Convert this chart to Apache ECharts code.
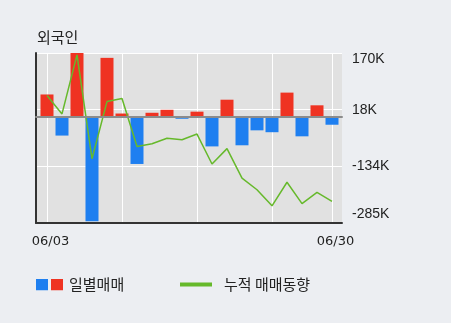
<!DOCTYPE html>
<html>
<head>
<meta charset="utf-8">
<script src="https://cdn.jsdelivr.net/npm/echarts@6/dist/echarts.min.js"></script>
<style>
html,body{margin:0;padding:0;background:#eceef2;}
#c{width:451px;height:323px;}
</style>
</head>
<body>
<div id="c"></div>
<script>
// Data (values in thousands of shares)
var categories = ['06/03','06/04','06/05','06/08','06/09','06/10','06/11','06/12','06/15','06/16',
                  '06/17','06/18','06/19','06/22','06/23','06/24','06/25','06/26','06/29','06/30'];
var dailyTrade = [59, -51, 170, -280, 157, 8, -127, 10, 18, -6, 13, -80, 45, -77, -37, -42, 64, -53, 30, -22];
var cumulativeTrade = [56, 7, 165, -113, 40, 48, -80, -73, -58, -62, -47, -127, -86, -165, -196, -239, -176, -233, -203, -227];
var yTickLabels = ['-285K', '-134K', '18K', '170K'];
var xShownLabels = ['06/03', '06/30'];
var xGridDates = ['06/03', '06/10', '06/17', '06/24', '06/30'];
var yMin = -285, yMax = 170;

var RED = '#ef3322', BLUE = '#1e7ff0', GREEN = '#66b92b';
var yInterval = (yMax - yMin) / 3;

var svgIcon = "<svg xmlns='http://www.w3.org/2000/svg' width='27' height='12'>" +
  "<rect x='0' y='0' width='12' height='12' fill='" + BLUE + "'/>" +
  "<rect x='15' y='0' width='12' height='12' fill='" + RED + "'/></svg>";
var barIcon = 'image://data:image/svg+xml;charset=utf-8,' + encodeURIComponent(svgIcon);

var chart = echarts.init(document.getElementById('c'), null, {renderer: 'canvas'});
chart.setOption({
  backgroundColor: '#eceef2',
  animation: false,
  title: {
    text: '외국인', left: 37, top: 30, padding: 0,
    textStyle: {fontSize: 15, fontWeight: 'normal', color: '#222', fontFamily: 'Noto Sans CJK KR'}
  },
  legend: [{
    data: [{name: '일별매매', icon: barIcon}],
    left: 36, top: 277, padding: 0, itemWidth: 27, itemHeight: 12,
    textStyle: {fontSize: 15, color: '#222', fontFamily: 'Noto Sans CJK KR', padding: [0, 0, 0, 1]}
  }, {
    data: [{name: '누적 매매동향', icon: 'rect'}],
    left: 180, top: 277, padding: 0, itemWidth: 32, itemHeight: 4,
    textStyle: {fontSize: 15, color: '#222', fontFamily: 'Noto Sans CJK KR', padding: [0, 0, 0, 7]}
  }],
  grid: [
    {left: 36, right: 109, top: 53, bottom: 100, show: true, backgroundColor: '#e1e1e1', borderWidth: 0},
    {left: 47, right: 119, top: 53, bottom: 100}
  ],
  xAxis: [
    {gridIndex: 0, type: 'value', min: 0, max: 1, position: 'bottom',
     axisLine: {show: true, onZero: false, lineStyle: {color: '#333', width: 2}},
     axisTick: {show: false}, axisLabel: {show: false}, splitLine: {show: false}},
    {gridIndex: 0, type: 'value', min: 0, max: 1, position: 'bottom',
     axisLine: {show: true, onZero: true, lineStyle: {color: '#8c8c8c', width: 2}},
     axisTick: {show: false}, axisLabel: {show: false}, splitLine: {show: false}},
    {gridIndex: 1, type: 'category', data: categories, boundaryGap: false,
     axisLine: {show: false}, axisTick: {show: false},
     axisLabel: {
       interval: function (i, v) { return xShownLabels.indexOf(v) >= 0; },
       margin: 12, padding: [0, 0, 0, 7],
       fontSize: 13, color: '#222', fontFamily: 'DejaVu Sans'
     },
     splitLine: {show: true, interval: function (i, v) { return xGridDates.indexOf(v) >= 0; },
       lineStyle: {color: '#ffffff', width: 1}}}
  ],
  yAxis: [
    {gridIndex: 0, type: 'value', min: yMin, max: yMax, interval: yInterval, position: 'left',
     axisLine: {show: true, lineStyle: {color: '#333', width: 2}},
     axisTick: {show: false}, axisLabel: {show: false},
     splitLine: {show: true, lineStyle: {color: '#ffffff', width: 1}}},
    {gridIndex: 1, type: 'value', min: yMin, max: yMax, interval: yInterval, position: 'right',
     axisLine: {show: false}, axisTick: {show: false}, splitLine: {show: false},
     axisLabel: {
       margin: 20, fontSize: 14, color: '#222', fontFamily: 'Liberation Sans',
       showMinLabel: true, showMaxLabel: true,
       formatter: function (v, i) {
         var t = yTickLabels[i];
         if (i === 3) return '{top|' + t + '}';
         if (i === 0) return '{bot|' + t + '}';
         return t;
       },
       rich: {
         top: {padding: [12, 0, 0, 0], fontSize: 14, fontFamily: 'Liberation Sans', color: '#222'},
         bot: {padding: [0, 0, 17, 0], fontSize: 14, fontFamily: 'Liberation Sans', color: '#222'}
       }
     }}
  ],
  series: [
    {name: 'zero', type: 'line', xAxisIndex: 0, yAxisIndex: 0, data: [],
     symbol: 'none', silent: true,
     markLine: {silent: true, symbol: 'none', animation: false, label: {show: false},
       lineStyle: {color: '#8c8c8c', width: 2, type: 'solid'},
       data: [{yAxis: 0}]}},
    {name: '일별매매', type: 'bar', xAxisIndex: 2, yAxisIndex: 1, barWidth: 13, clip: false,
     data: dailyTrade,
     itemStyle: {color: function (p) { return p.value < 0 ? BLUE : RED; }},
     z: 2},
    {name: '누적 매매동향', type: 'line', xAxisIndex: 2, yAxisIndex: 1, data: cumulativeTrade,
     showSymbol: false, symbol: 'none', clip: false,
     lineStyle: {color: GREEN, width: 1.5}, itemStyle: {color: GREEN}, z: 3}
  ]
});
</script>
</body>
</html>
